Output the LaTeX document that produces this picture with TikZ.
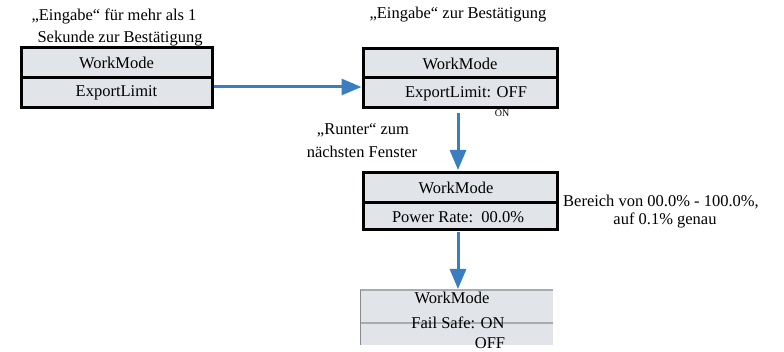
\documentclass[tikz,border=0pt]{standalone}
\usepackage{fontspec}
\setmainfont{Liberation Serif}
\usetikzlibrary{arrows.meta}
\definecolor{boxfill}{HTML}{E1E4E8}
\definecolor{arrblue}{HTML}{3A7DC0}
\definecolor{fadeline}{HTML}{A9ABAE}
\tikzset{
  lbl/.style={inner sep=0pt, font=\fontsize{16.5}{18}\selectfont, align=center},
  small/.style={inner sep=0pt, font=\fontsize{10}{11}\selectfont},
  boxrow/.style={draw=black, line width=3pt, fill=boxfill},
  flow/.style={draw=arrblue, line width=3pt, -{Triangle[length=20pt,width=16pt]}},
}
\begin{document}
\begin{tikzpicture}[x=1pt,y=-1pt]
\useasboundingbox (0,0) rectangle (784,352);
% box 1
\draw[boxrow] (21,48) rectangle (212,108);
\draw[line width=3pt] (21,78) -- (212,78);
\node[lbl] (b1a) at (116.5,63) {WorkMode};
\node[lbl] (b1b) at (116.5,93) {ExportLimit};
\coordinate (b1r) at (213.5,87);
% box 2
\draw[boxrow] (363,49) rectangle (557,108);
\draw[line width=3pt] (363,78) -- (557,78);
\node[lbl] (b2a) at (460,64) {WorkMode};
\node[lbl] (b2b) at (466,94) {ExportLimit: OFF};
\coordinate (b2l) at (361.5,87);
\node[small] (on) at (502,113) {ON};
% box 3
\draw[boxrow] (363,173) rectangle (557,230);
\draw[line width=3pt] (363,203) -- (557,203);
\node[lbl] (b3a) at (456,188) {WorkMode};
\node[lbl] (b3b) at (458,217) {Power Rate:\ \ 00.0\%};
% box 4 (faded)
\fill[boxfill] (360,290) rectangle (553,345);
\draw[fadeline, line width=2pt] (360,290.5) -- (553,290.5);
\draw[fadeline, line width=2pt] (360,323) -- (553,323);
\draw[fadeline!80!black, line width=1.5pt] (360.7,290) -- (360.7,345);
\node[lbl] (b4a) at (452,298) {WorkMode};
\node[lbl] (b4b) at (458,323) {Fail Safe: ON};
\node[lbl] (off) at (490,343) {OFF};
% labels
\node[lbl] (t1) at (114,16) {„Eingabe“ für mehr als 1};
\node[lbl] (t2) at (120,39) {Sekunde zur Bestätigung};
\node[lbl] (t3) at (458,15) {„Eingabe“ zur Bestätigung};
\node[lbl] (t4) at (363,130) {„Runter“ zum};
\node[lbl] (t5) at (362,152) {nächsten Fenster};
\node[lbl] (t6) at (661,202) {Bereich von 00.0\% - 100.0\%,};
\node[lbl] (t7) at (665,220) {auf 0.1\% genau};
% arrows
\coordinate (a2s) at (458,113);
\coordinate (a2e) at (458,170);
\coordinate (a3s) at (458,232);
\coordinate (a3e) at (458,289);
\draw[flow] (b1r) -- (b2l);
\draw[flow] (a2s) -- (a2e);
\draw[flow] (a3s) -- (a3e);
\end{tikzpicture}
\end{document}
